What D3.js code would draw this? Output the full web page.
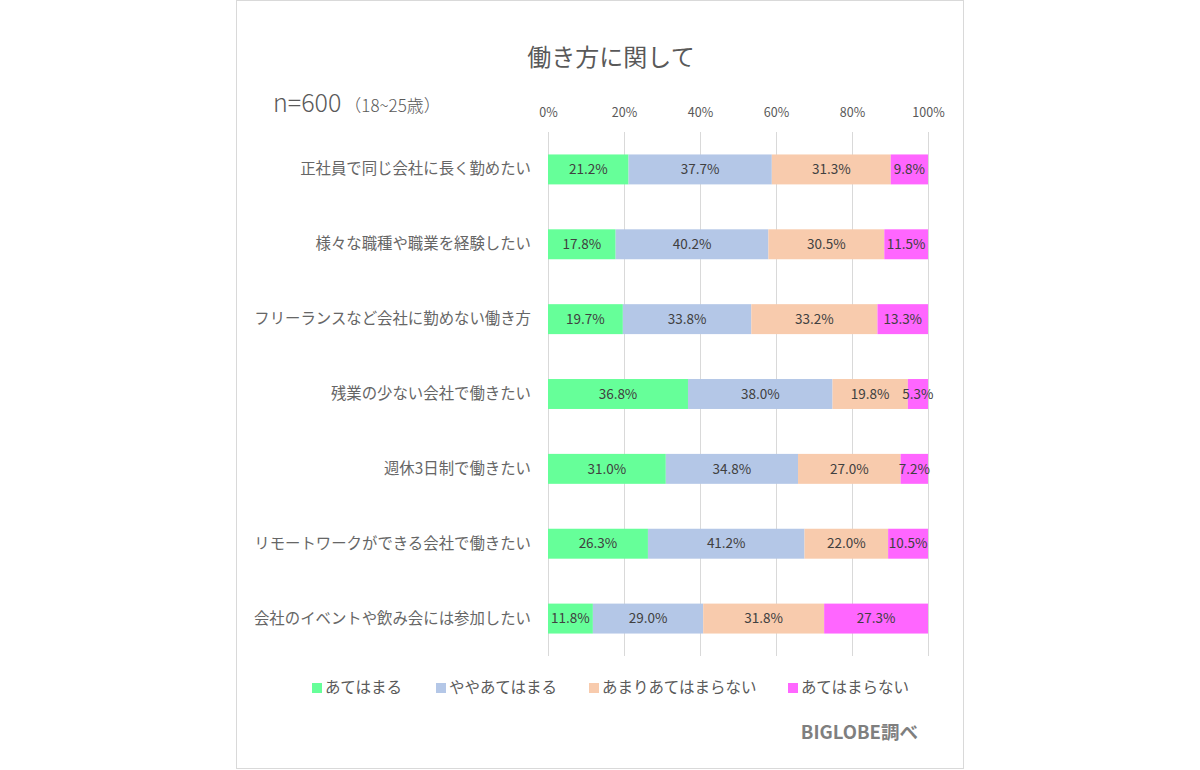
<!DOCTYPE html>
<html lang="ja">
<head>
<meta charset="utf-8">
<title>働き方に関して</title>
<script src="https://cdn.jsdelivr.net/npm/d3@7"></script>
<style>
body{margin:0;background:#fff;}
svg{display:block;font-family:"Noto Sans CJK JP","Noto Sans",sans-serif;}
</style>
</head>
<body>
<div id="chart"></div>
<script>
var width = 1200,
    height = 770;

// categories top to bottom
var categories = [
  "正社員で同じ会社に長く勤めたい",
  "様々な職種や職業を経験したい",
  "フリーランスなど会社に勤めない働き方",
  "残業の少ない会社で働きたい",
  "週休3日制で働きたい",
  "リモートワークができる会社で働きたい",
  "会社のイベントや飲み会には参加したい"
];
var seriesNames = ["あてはまる", "ややあてはまる", "あまりあてはまらない", "あてはまらない"];
var seriesColors = ["#66ff99", "#b4c7e7", "#f8cbad", "#ff66ff"];

// percentages per series, same order as categories
var atehamaru     = [21.2, 17.8, 19.7, 36.8, 31.0, 26.3, 11.8];
var yaya          = [37.7, 40.2, 33.8, 38.0, 34.8, 41.2, 29.0];
var amari         = [31.3, 30.5, 33.2, 19.8, 27.0, 22.0, 31.8];
var atehamaranai  = [ 9.8, 11.5, 13.3,  5.3,  7.2, 10.5, 27.3];

var tickValues = [0, 0.2, 0.4, 0.6, 0.8, 1.0];

var series = [atehamaru, yaya, amari, atehamaranai];

// build rows, 100% stacked like excel
var rows = categories.map(function(c, i){
  var r = {cat: c};
  var total = 0;
  series.forEach(function(s, k){ r[k] = s[i]; total += s[i]; });
  r.total = total;
  return r;
});

var svg = d3.select("#chart").append("svg")
    .attr("width", width)
    .attr("height", height);

// card border
svg.append("rect")
    .attr("x", 236.5).attr("y", 0.5)
    .attr("width", 727).attr("height", 768)
    .attr("fill", "#fff")
    .attr("stroke", "#d9d9d9");

var x = d3.scaleLinear().domain([0, 1]).range([548, 928]);
var y = d3.scaleBand().domain(categories).range([132, 656])
    .paddingInner(0.6).paddingOuter(0.3);

// gridlines
svg.append("g").selectAll("line").data(tickValues).enter()
  .append("line")
    .attr("x1", function(d){ return x(d) + 0.5; })
    .attr("x2", function(d){ return x(d) + 0.5; })
    .attr("y1", 132).attr("y2", 656)
    .attr("stroke", "#d9d9d9");

// top axis labels
var xAxis = d3.axisTop(x).tickValues(tickValues)
    .tickFormat(d3.format(".0%")).tickSize(0).tickPadding(0);
var ga = svg.append("g").attr("transform", "translate(0,117)").call(xAxis);
ga.select(".domain").remove();
ga.selectAll("text").attr("fill", "#595959").style("font-size", "12.5px")
    .style("font-family", "\"Noto Sans CJK JP\",sans-serif");

// category labels
var gy = svg.append("g").attr("transform", "translate(531,0)")
    .call(d3.axisLeft(y).tickSize(0).tickPadding(0));
gy.select(".domain").remove();
gy.selectAll("text").attr("fill", "#666").style("font-size", "15.4px")
    .style("font-family", "\"Noto Sans CJK JP\",sans-serif");

var stack = d3.stack().keys([0, 1, 2, 3]);
var stacked = stack(rows);

var layer = svg.append("g").selectAll("g").data(stacked).enter()
  .append("g").attr("fill", function(d, i){ return seriesColors[i]; });

layer.selectAll("rect").data(function(d){ return d; }).enter()
  .append("rect")
    .attr("x", function(d){ return x(d[0] / d.data.total); })
    .attr("y", function(d){ return y(d.data.cat); })
    .attr("width", function(d){ return x(d[1] / d.data.total) - x(d[0] / d.data.total); })
    .attr("height", y.bandwidth());

layer.selectAll("text").data(function(d){ return d; }).enter()
  .append("text")
    .attr("x", function(d){ return (x(d[0] / d.data.total) + x(d[1] / d.data.total)) / 2; })
    .attr("y", function(d){ return y(d.data.cat) + y.bandwidth() / 2; })
    .attr("dy", "0.35em")
    .attr("text-anchor", "middle")
    .attr("fill", "#404040")
    .style("font-size", "13.5px")
    .text(function(d){ return (d[1] - d[0]).toFixed(1) + "%"; });

// title
svg.append("text")
    .attr("x", 611).attr("y", 66)
    .attr("text-anchor", "middle")
    .attr("fill", "#595959")
    .style("font-size", "24px")
    .text("働き方に関して");

// sample size note
var note = svg.append("text").attr("x", 273).attr("y", 112).attr("fill", "#595959")
    .style("font-weight", 300);
note.append("tspan").style("font-size", "25px").text("n=600");
note.append("tspan").style("font-size", "17px").attr("dx", 3).text("（18~25歳）");

// legend
var legendX = [312, 436, 589, 788];
var lg = svg.append("g").selectAll("g").data(seriesNames).enter()
  .append("g")
    .attr("transform", function(d, i){ return "translate(" + legendX[i] + ",683)"; });
lg.append("rect").attr("width", 10).attr("height", 10)
    .attr("fill", function(d, i){ return seriesColors[i]; });
lg.append("text").attr("x", 13).attr("y", 5).attr("dy", "0.35em")
    .attr("fill", "#595959").style("font-size", "15.5px")
    .text(function(d){ return d; });

// source
svg.append("text")
    .attr("x", 918).attr("y", 739)
    .attr("text-anchor", "end")
    .attr("fill", "#7f7f7f")
    .style("font-size", "18.5px")
    .style("font-weight", "bold")
    .text("BIGLOBE調べ");
</script>
</body>
</html>
